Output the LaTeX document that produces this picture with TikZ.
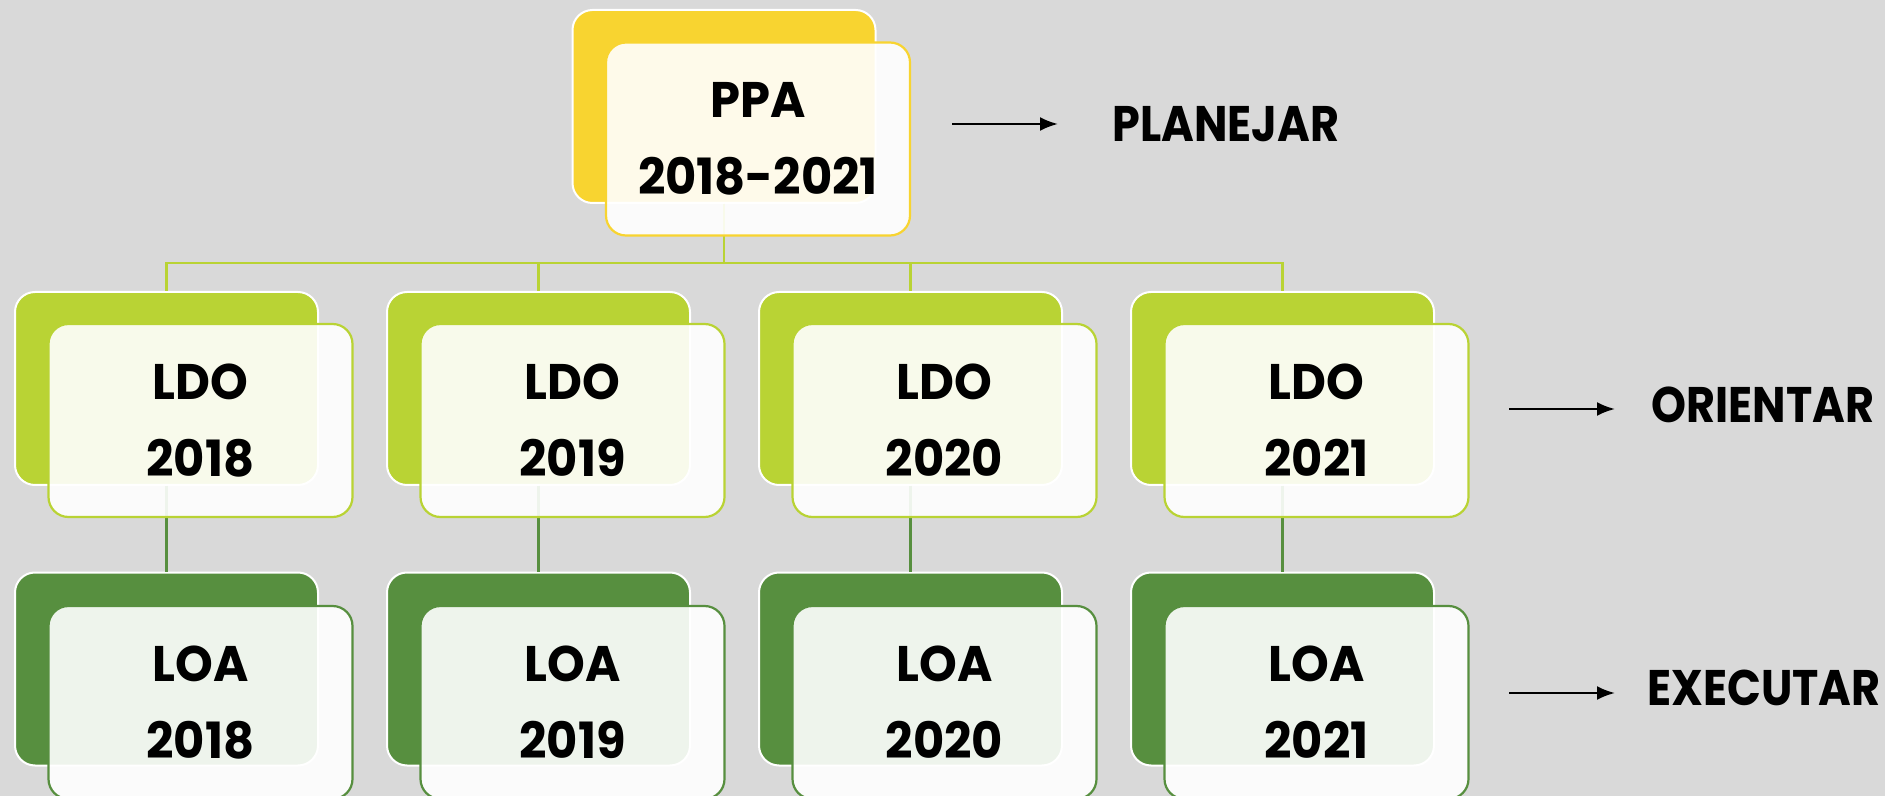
\documentclass[tikz,border=0pt]{standalone}
\usepackage{fontspec}
\setmainfont{Poppins}
\newfontfamily\boxfont{Poppins}[FakeStretch=0.96]
\newfontfamily\lblfont{Poppins}[FakeStretch=0.89]
\usetikzlibrary{arrows.meta}
\definecolor{bgc}{HTML}{D9D9D9}
\definecolor{ppay}{HTML}{F8D430}
\definecolor{ldog}{HTML}{B9D334}
\definecolor{loag}{HTML}{578F3F}
\tikzset{
  backbox/.style={draw=white, line width=1pt, rounded corners=10pt, minimum width=151.5pt, minimum height=96.5pt, inner sep=0pt},
  frontbox/.style={draw=#1, line width=1.1pt, rounded corners=10pt, fill=white, fill opacity=0.9, text opacity=1, minimum width=152pt, minimum height=96.5pt, inner sep=0pt, align=center, font=\boxfont\bfseries\fontsize{25}{38.5}\selectfont},
  tree/.style={draw=ldog, line width=1.3pt},
  treeb/.style={draw=loag, line width=1.1pt},
  arr/.style={line width=1.2pt, -{Latex[length=9pt,width=7pt]}},
  lbl/.style={anchor=base west, inner sep=0pt, font=\lblfont\bfseries\fontsize{25}{30}\selectfont}
}
\begin{document}
\begin{tikzpicture}[x=0.5pt,y=-0.5pt]
\useasboundingbox (0,0) rectangle (1885,796);
\clip (0,0) rectangle (1885,796);
\fill[bgc] (0,0) rectangle (1885,796);
% back boxes
\node[backbox, fill=ppay] (ppab) at (724,106.5) {};
\foreach \i/\x in {1/166.5,2/538.5,3/910.5,4/1282.5}{
  \node[backbox, fill=ldog] (ldob\i) at (\x,388.5) {};
  \node[backbox, fill=loag] (loab\i) at (\x,669) {};
}
% connectors
\coordinate (hub) at (724,263);
\foreach \i in {1,2,3,4}{
  \draw[tree] (ppab.south) -- (hub) -| (ldob\i.north);
  \draw[treeb] (ldob\i.south) -- (loab\i.north);
}
% front boxes
\node[frontbox=ppay] (ppaf) at (758,139) {PPA\\2018-2021};
\foreach \i/\x/\y in {1/200.5/2018,2/572.5/2019,3/944.5/2020,4/1316.5/2021}{
  \node[frontbox=ldog] (ldof\i) at (\x,420.5) {LDO\\\y};
  \node[frontbox=loag] (loaf\i) at (\x,702.5) {LOA\\\y};
}
% labels and arrows
\node[lbl] (plan) at (1112,142) {PLANEJAR};
\node[lbl] (orie) at (1651,423) {ORIENTAR};
\node[lbl] (exec) at (1647,705) {EXECUTAR};
\coordinate (p1) at (952,124); \coordinate (p2) at (1058,124);
\coordinate (o1) at (1509,409); \coordinate (o2) at (1615,409);
\coordinate (e1) at (1509,693); \coordinate (e2) at (1615,693);
\draw[arr] (p1) -- (p2);
\draw[arr] (o1) -- (o2);
\draw[arr] (e1) -- (e2);
\end{tikzpicture}
\end{document}
